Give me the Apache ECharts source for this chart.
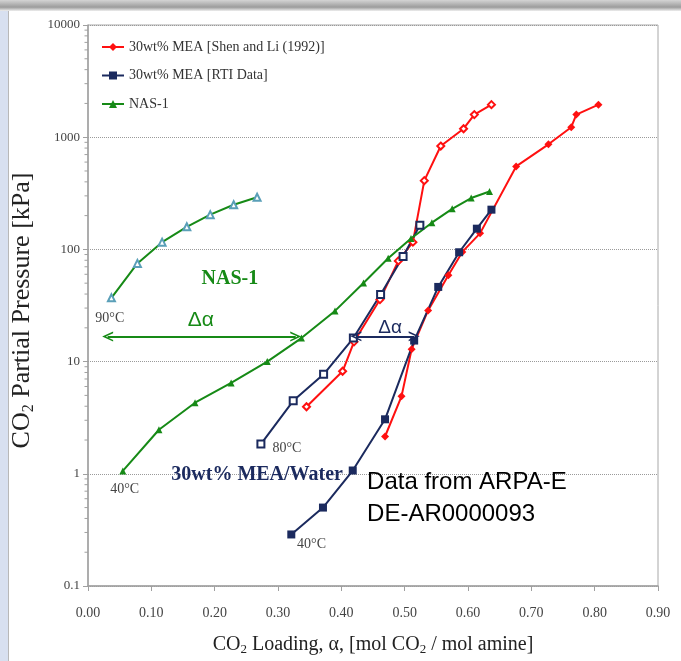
<!DOCTYPE html>
<html>
<head>
<meta charset="utf-8">
<script src="https://cdn.jsdelivr.net/npm/echarts@6/dist/echarts.min.js"></script>
<style>
  html, body { margin: 0; padding: 0; background: #fff; }
  #main { width: 681px; height: 661px; }
</style>
</head>
<body>
<div id="main"></div>
<script>
// CO2 loading (x) vs CO2 partial pressure kPa (y)
var shen40 = [[0.469, 2.15], [0.495, 4.9], [0.511, 12.9], [0.537, 28.6], [0.569, 58.7], [0.591, 95],
    [0.619, 139], [0.676, 549], [0.727, 864], [0.763, 1228], [0.771, 1590], [0.806, 1950]];
var shen80 = [[0.345, 3.96], [0.402, 8.2], [0.420, 15], [0.461, 35.7], [0.490, 79], [0.513, 116],
    [0.531, 410], [0.557, 834], [0.593, 1190], [0.610, 1590], [0.637, 1950]];
var rti40 = [[0.321, 0.288], [0.371, 0.50], [0.418, 1.07], [0.469, 3.06], [0.515, 15.4],
    [0.553, 46.3], [0.586, 94.3], [0.614, 153], [0.637, 226]];
var rti80 = [[0.273, 1.84], [0.324, 4.47], [0.372, 7.7], [0.419, 16.2], [0.462, 39.6],
    [0.4975, 86.3], [0.524, 164]];
var nas40 = [[0.055, 1.06], [0.112, 2.47], [0.169, 4.3], [0.226, 6.45], [0.283, 10], [0.337, 16.2],
    [0.390, 28.3], [0.435, 50.2], [0.474, 83.4], [0.510, 125], [0.543, 173], [0.575, 230],
    [0.605, 287], [0.634, 328]];
var nas90 = [[0.037, 37], [0.078, 75], [0.117, 116], [0.156, 159], [0.193, 204], [0.230, 250], [0.267, 292]];

var legendNames = ['30wt% MEA [Shen and Li (1992)]', '30wt% MEA [RTI Data]', 'NAS-1'];
var minorTicks = [0.2, 0.3, 0.4, 0.5, 0.6, 0.7, 0.8, 0.9,
    2, 3, 4, 5, 6, 7, 8, 9,
    20, 30, 40, 50, 60, 70, 80, 90,
    200, 300, 400, 500, 600, 700, 800, 900,
    2000, 3000, 4000, 5000, 6000, 7000, 8000, 9000];

// annotation texts at data coordinates
var noteText = ['90°C', 'Δα', 'NAS-1', '40°C', '80°C', '30wt% MEA/Water', '40°C', 'Δα', 'Data from ARPA-E\nDE-AR0000093'];
var noteX = [0.0344, 0.178, 0.224, 0.058, 0.314, 0.267, 0.353, 0.477, 0.4406];
var noteY = [24.2, 23.2, 54.5, 0.733, 1.69, 0.974, 0.235, 20.1, 0.61];
var arrowGreen = [[0.031, 16.7], [0.328, 16.7]];
var arrowNavy = [[0.423, 16.8], [0.515, 16.8]];

var RED = '#ff1010', NAVY = '#1b2a5e', GREEN = '#168a16', TEAL = '#5a9fb8';
var SERIF = '"Liberation Serif", "Times New Roman", serif';
var SANS = '"Liberation Sans", Arial, sans-serif';

var noteStyles = [
    {color: '#444', fontSize: 14, fontFamily: SERIF},
    {color: GREEN, fontSize: 21, fontFamily: SANS},
    {color: GREEN, fontSize: 20, fontWeight: 'bold', fontFamily: SERIF},
    {color: '#444', fontSize: 14, fontFamily: SERIF},
    {color: '#444', fontSize: 14, fontFamily: SERIF},
    {color: NAVY, fontSize: 20, fontWeight: 'bold', fontFamily: SERIF},
    {color: '#444', fontSize: 14, fontFamily: SERIF},
    {color: NAVY, fontSize: 19, fontFamily: SANS},
    {color: '#000', fontSize: 24, fontFamily: SANS, align: 'left', lineHeight: 32}
];

var chart = echarts.init(document.getElementById('main'));
var chev = 'path://M0,10 L5,0 L10,10 L8.4,10 L5,3.4 L1.6,10 Z';

function lineSeries(name, data, color, symbol, markerColor, size) {
    return {
        name: name,
        type: 'line',
        data: data,
        symbol: symbol,
        symbolSize: size,
        showSymbol: true,
        lineStyle: {color: color, width: 2},
        itemStyle: {color: markerColor || color, borderWidth: 1.2},
        z: 3
    };
}

var notes = noteText.map(function (t, i) {
    var st = noteStyles[i];
    return {
        value: [noteX[i], noteY[i]],
        label: {
            show: true,
            position: 'inside',
            formatter: t,
            color: st.color,
            fontSize: st.fontSize,
            fontWeight: st.fontWeight || 'normal',
            fontFamily: st.fontFamily,
            align: st.align || 'center',
            verticalAlign: 'middle',
            lineHeight: st.lineHeight
        }
    };
});

chart.setOption({
    animation: false,
    backgroundColor: '#fff',
    graphic: [
        {type: 'rect', z: -10, shape: {x: 0, y: 0, width: 8, height: 661}, style: {fill: '#d8e0f0'}},
        {type: 'rect', z: -10, shape: {x: 0, y: 0, width: 681, height: 11},
            style: {fill: new echarts.graphic.LinearGradient(0, 0, 0, 1, [
                {offset: 0, color: '#d4d4d4'}, {offset: 0.65, color: '#9c9c9c'}, {offset: 1, color: '#eeeeee'}])}},
        {type: 'line', z: -9, shape: {x1: 8.5, y1: 11, x2: 8.5, y2: 661}, style: {stroke: '#b8b8b8', lineWidth: 1}}
    ],
    grid: {left: 88, right: 23, top: 25, bottom: 69, show: true, borderColor: '#a8a8a8', borderWidth: 1},
    legend: {
        orient: 'vertical',
        left: 96,
        top: 34,
        itemWidth: 22,
        itemHeight: 10,
        itemGap: 12.5,
        data: legendNames,
        textStyle: {fontFamily: SERIF, fontSize: 14, color: '#333', lineHeight: 16}
    },
    xAxis: {
        type: 'value',
        min: 0,
        max: 0.9,
        interval: 0.1,
        name: '{a|CO}{s|2}{a| Loading, α, [mol CO}{s|2}{a| / mol amine]}',
        nameLocation: 'middle',
        nameGap: 47,
        nameTextStyle: {
            rich: {
                a: {fontFamily: SERIF, fontSize: 20, color: '#222'},
                s: {fontFamily: SERIF, fontSize: 13, color: '#222', padding: [10, 0, 0, 0]}
            }
        },
        axisLine: {lineStyle: {color: '#a0a0a0', width: 1.5}},
        axisTick: {length: 5, lineStyle: {color: '#a0a0a0'}},
        axisLabel: {
            margin: 20,
            fontFamily: SERIF,
            fontSize: 14,
            color: '#444',
            formatter: function (v) { return v.toFixed(2); }
        },
        splitLine: {show: false}
    },
    yAxis: {
        type: 'log',
        logBase: 10,
        min: 0.1,
        max: 10000,
        name: '{a|CO}{s|2}{a| Partial Pressure [kPa]}',
        nameLocation: 'middle',
        nameGap: 46,
        nameTextStyle: {
            padding: [0, 10, 0, 0],
            rich: {
                a: {fontFamily: SERIF, fontSize: 26, color: '#222'},
                s: {fontFamily: SERIF, fontSize: 16, color: '#222', padding: [12, 0, 0, 0]}
            }
        },
        axisLine: {show: true, lineStyle: {color: '#a0a0a0', width: 1.5}},
        axisTick: {length: 5, lineStyle: {color: '#a0a0a0'}},
        axisLabel: {
            margin: 8,
            fontFamily: SERIF,
            fontSize: 13,
            color: '#444',
            formatter: function (v) { return String(+Number(v).toPrecision(6)); }
        },
        splitLine: {show: true, lineStyle: {color: '#9a9a9a', type: 'dotted', width: 1}}
    },
    series: [
        lineSeries(legendNames[0], shen40, RED, 'diamond', RED, 8),
        lineSeries(legendNames[0], shen80, RED, 'emptyDiamond', RED, 7),
        lineSeries(legendNames[1], rti40, NAVY, 'rect', NAVY, 8),
        lineSeries(legendNames[1], rti80, NAVY, 'emptyRect', NAVY, 7),
        lineSeries(legendNames[2], nas40, GREEN, 'triangle', GREEN, 7),
        lineSeries(legendNames[2], nas90, GREEN, 'emptyTriangle', TEAL, 7),
        {
            type: 'custom',
            silent: true,
            clip: false,
            data: minorTicks.map(function (v) { return [0, v]; }),
            encode: {x: 0, y: 1},
            renderItem: function (params, api) {
                var p = api.coord([api.value(0), api.value(1)]);
                return {
                    type: 'line',
                    shape: {x1: p[0] - 3.5, y1: p[1], x2: p[0], y2: p[1]},
                    style: {stroke: '#a0a0a0', lineWidth: 1}
                };
            },
            z: 1
        },
        {
            type: 'scatter',
            silent: true,
            symbolSize: 0,
            itemStyle: {opacity: 1},
            data: notes,
            z: 5,
            markLine: {
                silent: true,
                symbol: [chev, chev],
                symbolSize: [10, 11],
                label: {show: false},
                data: [
                    [{coord: arrowGreen[0], lineStyle: {color: GREEN, width: 2, type: 'solid'}}, {coord: arrowGreen[1]}],
                    [{coord: arrowNavy[0], lineStyle: {color: NAVY, width: 2, type: 'solid'}}, {coord: arrowNavy[1]}]
                ]
            }
        }
    ]
});
</script>
</body>
</html>
